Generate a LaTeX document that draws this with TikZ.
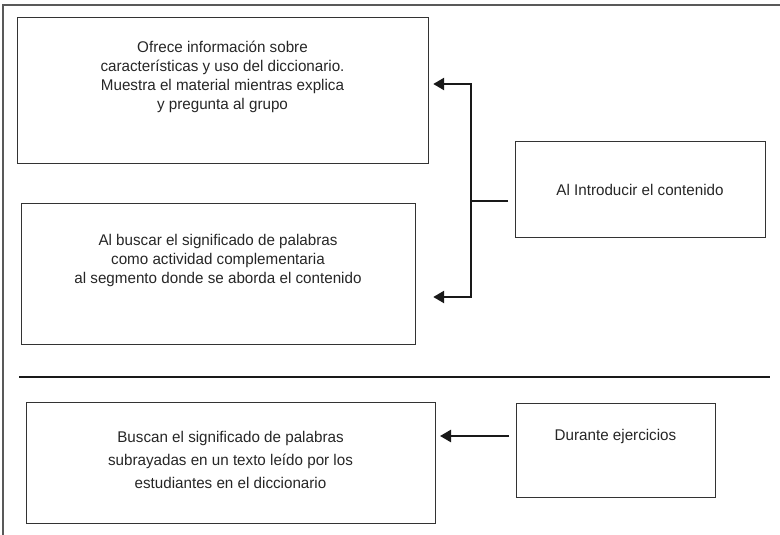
\documentclass[tikz,border=0pt]{standalone}
\usepackage{fontspec}
\setmainfont[FakeStretch=0.98]{Liberation Sans}
\usetikzlibrary{arrows.meta,calc}
\tikzset{arr/.tip={Triangle[length=11pt,width=12pt]}}
\begin{document}
\begin{tikzpicture}[x=1pt,y=-1pt,
 box/.style={draw=black!80, line width=1.2pt, inner sep=0pt, anchor=north west},
 txt/.style={align=center, text=black!85, font=\fontsize{15.5}{19}\selectfont, inner sep=0pt},
 conn/.style={line width=2.5pt, draw=black!90, line join=miter}
]
\useasboundingbox (0,0) rectangle (780,535);
\draw[line width=1.5pt, black!65] (3,535) -- (3,5) -- (780,5);
% boxes
\node[box, minimum width=411pt, minimum height=146pt] (b1) at (17,17) {};
\node[box, minimum width=394pt, minimum height=141pt] (b2) at (21,203) {};
\node[box, minimum width=250pt, minimum height=96pt] (b5) at (515,141) {};
\node[box, minimum width=409pt, minimum height=121pt] (b3) at (26,402) {};
\node[box, minimum width=199pt, minimum height=94pt] (b4) at (516,403) {};
% texts
\node[txt] (t1) at (222.5,77) {Ofrece información sobre\\características y uso del diccionario.\\Muestra el material mientras explica\\y pregunta al grupo};
\node[txt] (t2) at (218,260) {Al buscar el significado de palabras\\como actividad complementaria\\al segmento donde se aborda el contenido};
\node[txt] (t5) at (640,190) {Al Introducir el contenido};
\node[txt, font=\fontsize{15.5}{23}\selectfont] (t3) at (230.5,460) {Buscan el significado de palabras\\subrayadas en un texto leído por los\\estudiantes en el diccionario};
\node[txt] (t4) at (615.5,436) {Durante ejercicios};
% separator
\coordinate (s1) at (19,377);
\coordinate (s2) at (770,377);
\draw[line width=2.5pt, black!90] (s1) -- (s2);
% bracket connector
\coordinate (j) at (471,201);
\coordinate (jt) at (471,84);
\coordinate (jb) at (471,297);
\draw[conn] ($(b5.west |- j)+(-7,0)$) -- (j);
\draw[conn, arr-arr] ($(b1.east |- jt)+(4,0)$) -- (jt) -- (jb) -- ($(b2.east |- jb)+(17,0)$);
% lower connector
\coordinate (d1) at (509,436);
\coordinate (d2) at (440,436);
\draw[conn, -arr] (d1) -- (d2);
\end{tikzpicture}
\end{document}
